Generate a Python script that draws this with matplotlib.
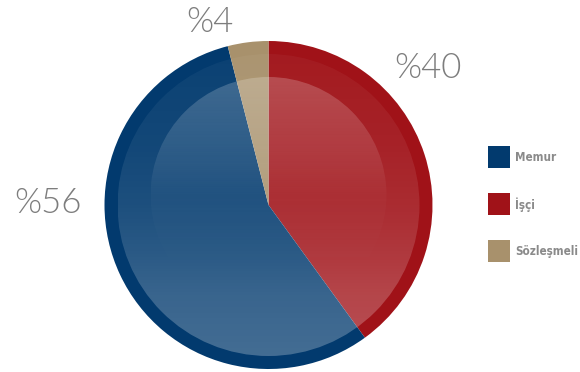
import matplotlib
matplotlib.use("Agg")
import matplotlib.pyplot as plt
from matplotlib.patches import Circle, Rectangle
import numpy as np

# dağılım (saat yönünde, tepeden başlayarak)
kategoriler = ["İşçi", "Memur", "Sözleşmeli"]
oranlar = [40, 56, 4]
renkler = ["#A01218", "#023A6E", "#A8916C"]
legend_sirasi = ["Memur", "İşçi", "Sözleşmeli"]

W, H = 580, 372
cx, cy = 268.5, H - 205
R = 164

fig = plt.figure(figsize=(5.8, 3.72), dpi=100)
ax = fig.add_axes([0, 0, 1, 1])

wedges, _ = ax.pie(oranlar, colors=renkler, startangle=90, counterclock=False,
                   center=(cx, cy), radius=R, frame=True,
                   wedgeprops=dict(linewidth=0, antialiased=True))


def parlaklik(merkez_y, r, t_nok, a_nok):
    # beyaz, dikey alfa gradyanlı disk (pasta üstüne bindirme)
    n = 400
    t = np.linspace(0, 1, n)
    img = np.ones((n, 2, 4))
    img[:, :, 3] = np.interp(t, t_nok, a_nok)[:, None]
    im = ax.imshow(img, extent=[cx - r, cx + r, merkez_y - r, merkez_y + r],
                   origin="upper", interpolation="bilinear", zorder=3)
    clip = Circle((cx, merkez_y), r, transform=ax.transData)
    im.set_clip_path(clip)


# dış halka içindeki geniş disk
parlaklik(cy, 151, [0, 0.3, 0.5, 0.65, 0.8, 1.0],
          [0.04, 0.07, 0.11, 0.16, 0.22, 0.26])
# üstteki parlak iç daire
parlaklik(H - 195, 118, [0, 0.3, 0.5, 0.7, 1.0],
          [0.21, 0.12, 0.03, 0.01, 0.0])

ax.set_xlim(0, W)
ax.set_ylim(0, H)
ax.set_aspect("equal")
ax.axis("off")

# yüzde etiketleri
yuzde_font = dict(family=["Lato", "DejaVu Sans"], fontweight=300,
                  fontsize=25, color="#7d7d7d", ha="center", va="center")
etiket_yer = {"İşçi": (428, H - 68), "Memur": (47.5, H - 203),
              "Sözleşmeli": (210, H - 22)}
for k, v in zip(kategoriler, oranlar):
    ax.text(*etiket_yer[k], f"%{v}", **yuzde_font)

# lejant: kare + etiket
for i, k in enumerate(legend_sirasi):
    y = H - (157 + i * 47)
    ax.add_patch(Rectangle((488, y - 11), 22, 22, linewidth=0,
                           facecolor=renkler[kategoriler.index(k)], zorder=4))
    ax.text(515.5, y - 0.5, k, fontsize=8.4, fontweight="bold",
            family="DejaVu Sans", fontstretch="condensed",
            color="#8a8a8a", va="center", ha="left")

fig.savefig("out.png", dpi=100)
